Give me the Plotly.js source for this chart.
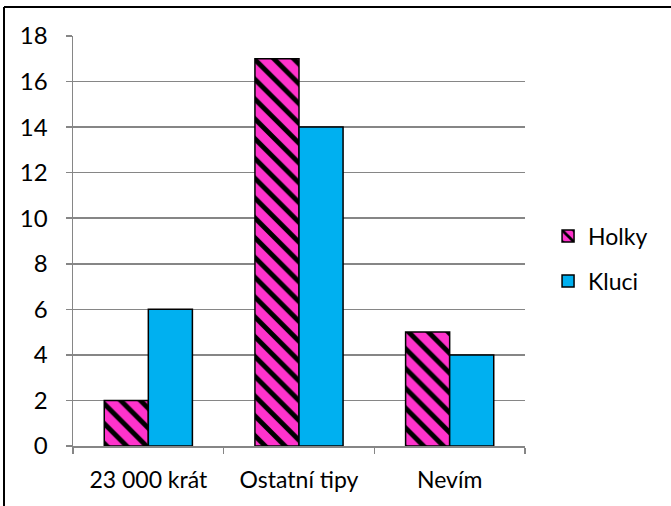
<!DOCTYPE html>
<html><head><meta charset="utf-8">
<script src="https://cdn.plot.ly/plotly-3.0.1.min.js"></script>
<style>html,body{margin:0;padding:0;background:#fff}#c{width:671px;height:506px}</style>
</head><body><div id="c"></div>
<script>
const categories = ["23 000 krát", "Ostatní tipy", "Nevím"];
const holky = [2, 17, 5];
const kluci = [6, 14, 4];
const yTicks = [0, 2, 4, 6, 8, 10, 12, 14, 16, 18];

const font = "Lato, 'Open Sans', sans-serif";
const data = [
  {type: "bar", name: "Holky", x: categories, y: holky, legendgroup: "a",
   marker: {color: "#FF33CC", line: {color: "#000", width: 1.5},
            pattern: {shape: "\\", fgcolor: "#000", bgcolor: "#FF33CC", size: 14, solidity: 0.35}}},
  {type: "bar", name: "Kluci", x: categories, y: kluci, legendgroup: "b",
   marker: {color: "#00B0F0", line: {color: "#000", width: 1.5}}}
];
const layout = {
  width: 671, height: 506,
  margin: {l: 73, r: 146, t: 36, b: 60},
  paper_bgcolor: "#fff", plot_bgcolor: "#fff",
  font: {family: font, size: 24, color: "#000"},
  barmode: "group", bargap: 0.415, bargroupgap: 0,
  showlegend: true,
  legend: {x: 1.051, y: 0.457, xanchor: "left", yanchor: "middle",
           font: {size: 23}, tracegroupgap: 12, itemwidth: 30},
  xaxis: {type: "category", showline: true, linecolor: "#868686", linewidth: 1.5,
          ticks: "outside", tickson: "boundaries", ticklen: 6, tickcolor: "#868686",
          tickwidth: 1.5, showgrid: false, tickfont: {size: 23}, ticklabelstandoff: 13},
  yaxis: {range: [0, 18], tickvals: yTicks, showline: true, linecolor: "#868686", linewidth: 1.5,
          ticks: "outside", ticklen: 6, tickcolor: "#868686", tickwidth: 1.5,
          showgrid: true, gridcolor: "#868686", gridwidth: 1.5, zeroline: false,
          tickfont: {size: 24}, ticklabelstandoff: 13},
  shapes: [
    {type: "line", xref: "paper", yref: "paper", x0: -69/452, x1: 700/452, y0: 1 + 29/410, y1: 1 + 29/410,
     line: {color: "#000", width: 2}},
    {type: "line", xref: "paper", yref: "paper", x0: -69/452, x1: -69/452, y0: 1 + 29/410, y1: -0.3,
     line: {color: "#000", width: 2}}
  ]
};
Plotly.newPlot("c", data, layout, {displayModeBar: false, staticPlot: true});
</script></body></html>
